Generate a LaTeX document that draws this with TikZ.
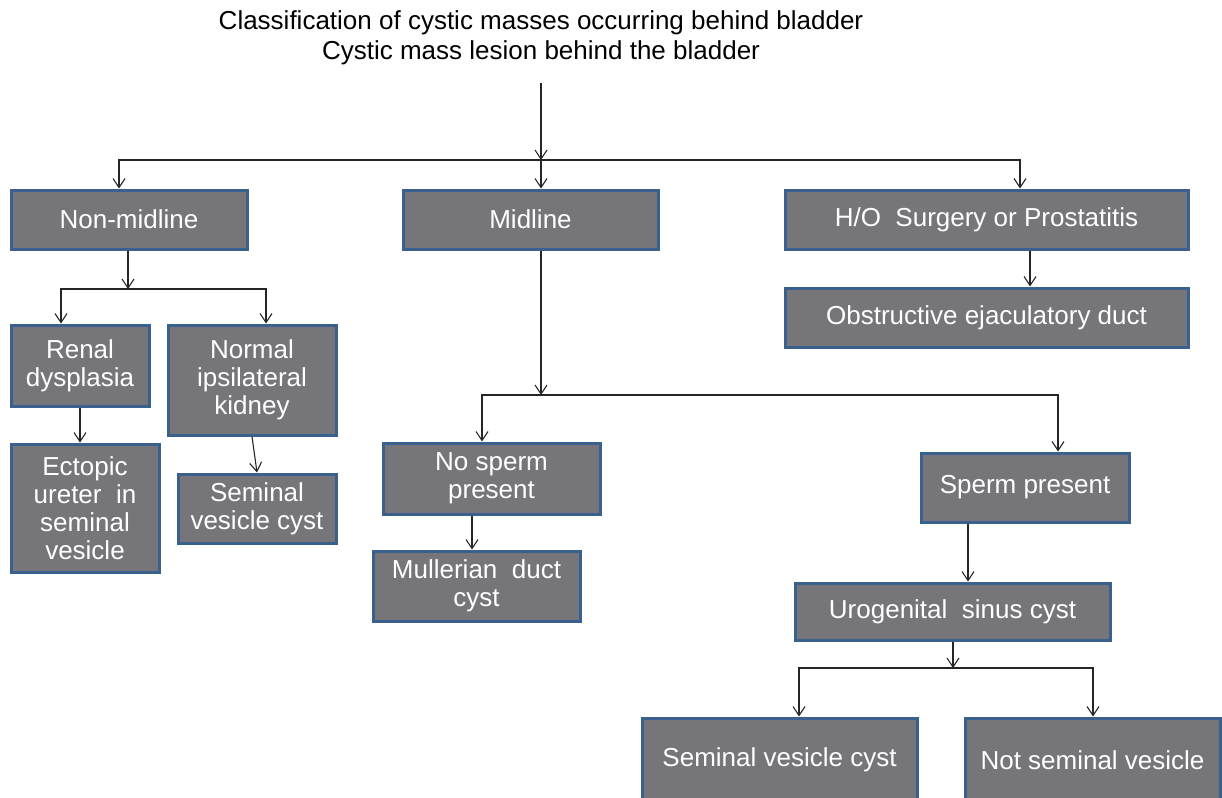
\documentclass[tikz,border=0pt]{standalone}
\usepackage{fontspec}
\setmainfont{Liberation Sans}
\usetikzlibrary{arrows.meta}
\definecolor{boxgray}{RGB}{118,118,122}
\definecolor{boxblue}{RGB}{58,96,142}
\newcommand\boxfont{\fontsize{26}{28}\selectfont}
\begin{document}
\begin{tikzpicture}[x=1pt,y=-1pt,
        box/.style={draw=boxblue, line width=3pt, fill=boxgray, text=white,
            inner sep=0pt, align=center, font=\boxfont},
        arr/.style={-{Straight Barb[length=9pt,width=12pt]}, line width=1.1pt, black!85}]
        \useasboundingbox[fill=white] (0,0) rectangle (1222,797);

        \node[align=center, font=\boxfont, text=black] (title) at (541,38)
            {Classification of cystic masses occurring behind bladder\\[2pt]
             Cystic mass lesion behind the bladder};
        \coordinate (top) at (541,83);
        \coordinate (bus1) at (541,160);

        \node[box, minimum width=236, minimum height=59] (nonmid) at (129,219.5) {Non-midline};
        \node[box, minimum width=255, minimum height=59] (midline) at (530.5,219.5) {Midline};
        \node[box, minimum width=403, minimum height=59] (surgery) at (986.5,219.5) {H/O~ Surgery or Prostatitis};
        \node[box, minimum width=403, minimum height=59] (obstr) at (986.5,317.5) {Obstructive ejaculatory duct};

        \coordinate (bus2) at (128,289);
        \node[box, minimum width=138, minimum height=81] (renal) at (80,365.5) {Renal\\dysplasia};
        \node[box, minimum width=168, minimum height=110] (normal) at (252,380) {Normal\\ipsilateral\\kidney};
        \node[box, minimum width=148, minimum height=128] (ectopic) at (85,508) {Ectopic\\ureter~ in\\seminal\\vesicle};
        \node[box, minimum width=158, minimum height=69] (semleft) at (257,508.5) {Seminal\\vesicle cyst};

        \coordinate (bus3) at (541,395);
        \node[box, minimum width=217, minimum height=71] (nosperm) at (491.5,478.5) {No sperm\\present};
        \node[box, minimum width=207, minimum height=70] (mullerian) at (476.5,586) {Mullerian~ duct\\cyst};
        \node[box, minimum width=208, minimum height=69] (sperm) at (1025,487.5) {Sperm present};
        \node[box, minimum width=315, minimum height=57] (urogen) at (952.5,611.5) {Urogenital~ sinus cyst};

        \coordinate (bus4) at (953,668);
        \node[box, minimum width=275, minimum height=84] (semcyst) at (779.5,760) {Seminal vesicle cyst};
        \node[box, minimum width=255, minimum height=84] (notsem) at (1092.5,760) {Not seminal vesicle};

        \draw[arr] (top) -- (bus1);
        \draw[arr] (bus1) -| ([xshift=-10]nonmid.north);
        \draw[arr] (bus1) -- (bus1 |- midline.north);
        \draw[arr] (bus1) -| ([xshift=33.5]surgery.north);
        \draw[arr] ([xshift=43.5]surgery.south) -- ([xshift=43.5]surgery.south |- obstr.north);

        \draw[arr] (nonmid.south -| bus2) -- (bus2);
        \draw[arr] (bus2) -| ([xshift=-19]renal.north);
        \draw[arr] (bus2) -| ([xshift=14]normal.north);
        \draw[arr] (renal.south) -- (renal.south |- ectopic.north);
        \draw[arr] (normal.south) -- (semleft.north);

        \draw[arr] (bus3 |- midline.south) -- (bus3);
        \draw[arr] (bus3) -| ([xshift=-9.5]nosperm.north);
        \draw[arr] (bus3) -| ([xshift=33]sperm.north);
        \draw[arr] ([xshift=-19.5]nosperm.south) -- ([xshift=-19.5]nosperm.south |- mullerian.north);
        \draw[arr] ([xshift=-57]sperm.south) -- ([xshift=-57]sperm.south |- urogen.north);

        \draw[arr] (urogen.south -| bus4) -- (bus4);
        \draw[arr] (bus4) -| ([xshift=19.5]semcyst.north);
        \draw[arr] (bus4) -| ([xshift=0.5]notsem.north);
\end{tikzpicture}
\end{document}
